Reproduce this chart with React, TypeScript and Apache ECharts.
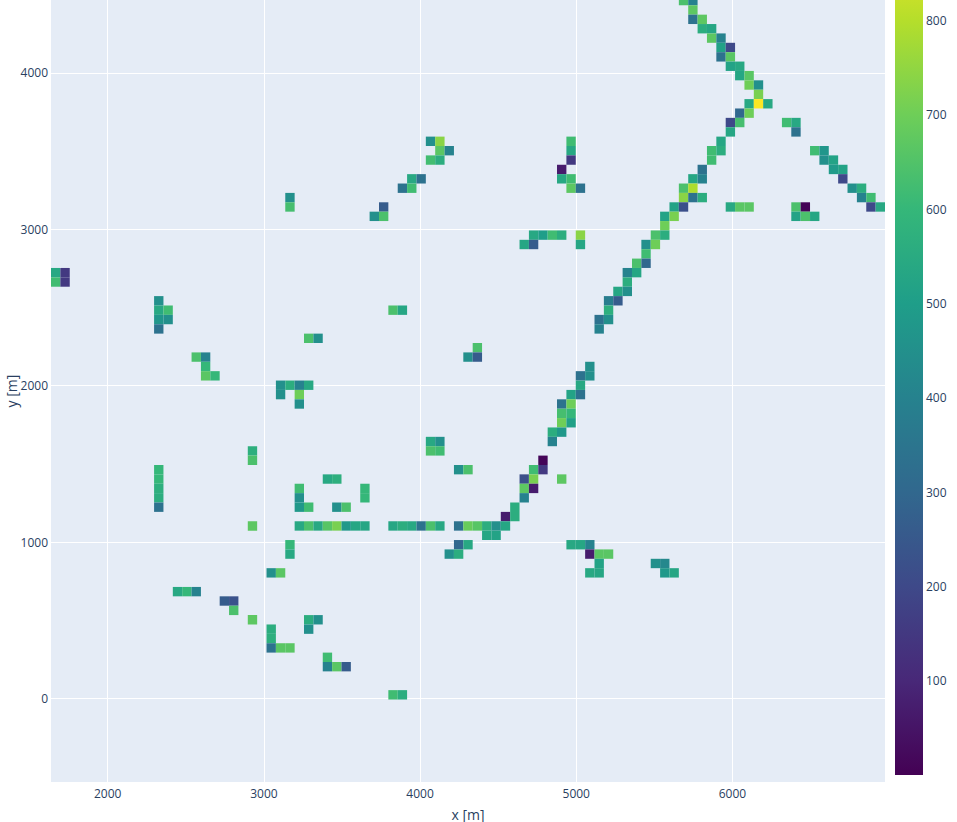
import React, { useEffect, useRef } from "react";
import * as echarts from "echarts";

// Row centres (y, metres), from top row to bottom row
const yRows: number[] = [
  4463, 4403, 4343, 4283, 4223, 4163, 4103, 4043, 3983, 3923, 3863, 3803, 3743, 3683, 3623,
  3563, 3503, 3443, 3383, 3323, 3263, 3203, 3143, 3083, 3023, 2963, 2903, 2843, 2783, 2723,
  2663, 2603, 2543, 2483, 2423, 2363, 2303, 2243, 2183, 2123, 2063, 2003, 1943, 1883, 1823,
  1763, 1703, 1643, 1583, 1523, 1463, 1403, 1343, 1283, 1223, 1163, 1103, 1043, 983, 923,
  863, 803, 683, 623, 563, 503, 443, 383, 323, 263, 203, 23,
];

// Cell centres (x, metres) for each row
const xByRow: number[][] = [
  [5687, 5747],
  [5747],
  [5747, 5807],
  [5807, 5867],
  [5867, 5927],
  [5927, 5987],
  [5927, 5987],
  [5987, 6047],
  [6047, 6107],
  [6107, 6167],
  [6167],
  [6107, 6167, 6227],
  [6047, 6107],
  [5987, 6047, 6347, 6407],
  [5987, 6407],
  [4067, 4127, 4967, 5927],
  [4127, 4187, 4967, 5867, 5927, 6527, 6587],
  [4067, 4127, 4967, 5867, 6587, 6647],
  [4907, 5807, 6647, 6707],
  [3947, 4007, 4907, 4967, 5747, 5807, 6707],
  [3887, 3947, 4967, 5027, 5687, 5747, 6767, 6827],
  [3167, 5687, 5747, 5807, 6827, 6887],
  [3167, 3767, 5627, 5687, 5987, 6047, 6107, 6407, 6467, 6887, 6947],
  [3707, 3767, 5567, 5627, 6407, 6467, 6527],
  [5567],
  [4727, 4787, 4847, 4907, 5027, 5507, 5567],
  [4667, 4727, 5027, 5447, 5507],
  [5447],
  [5387, 5447],
  [1667, 1727, 5327, 5387],
  [1667, 1727, 5327],
  [5267, 5327],
  [2327, 5207, 5267],
  [2327, 2387, 3827, 3887, 5207],
  [2327, 2387, 5147, 5207],
  [2327, 5147],
  [3287, 3347],
  [4367],
  [2567, 2627, 4307, 4367],
  [2627, 5087],
  [2627, 2687, 5027, 5087],
  [3107, 3167, 3227, 3287, 5027],
  [3107, 3227, 4967, 5027],
  [3227, 4907, 4967],
  [4907, 4967],
  [4907, 4967],
  [4847, 4907],
  [4067, 4127, 4847],
  [2927, 4067, 4127],
  [2927, 4787],
  [2327, 4247, 4307, 4727, 4787],
  [2327, 3407, 3467, 4667, 4727, 4907],
  [2327, 3227, 3647, 4667, 4727],
  [2327, 3227, 3647, 4667],
  [2327, 3227, 3287, 3467, 3527, 4607],
  [4547, 4607],
  [2927, 3227, 3287, 3347, 3407, 3467, 3527, 3587, 3647, 3827, 3887, 3947, 4007, 4067, 4127, 4247, 4307, 4367, 4427, 4487, 4547],
  [4427, 4487],
  [3167, 4247, 4307, 4967, 5027, 5087],
  [3167, 4187, 4247, 5087, 5147, 5207],
  [5147, 5507, 5567],
  [3047, 3107, 5087, 5147, 5567, 5627],
  [2447, 2507, 2567],
  [2747, 2807],
  [2807],
  [2927, 3287, 3347],
  [3047, 3287],
  [3047],
  [3047, 3107, 3167],
  [3407],
  [3407, 3467, 3527],
  [3827, 3887],
];

// Cell values for each row
const zByRow: number[][] = [
  [640, 400],
  [670],
  [340, 670],
  [560, 530],
  [670, 400],
  [510, 200],
  [340, 665],
  [520, 540],
  [530, 665],
  [700, 450],
  [715],
  [540, 900, 540],
  [300, 700],
  [200, 630, 620, 540],
  [530, 340],
  [450, 740, 620, 530],
  [665, 400, 540, 620, 560, 620, 470],
  [625, 560, 150, 620, 450, 520],
  [70, 340, 490, 520],
  [540, 340, 540, 620, 530, 400, 200],
  [340, 620, 670, 340, 640, 790, 450, 560],
  [450, 740, 340, 560, 400, 620],
  [630, 260, 520, 220, 540, 665, 665, 640, 5, 200, 540],
  [450, 640, 520, 715, 520, 640, 530],
  [700],
  [540, 500, 620, 560, 740, 640, 560],
  [530, 260, 530, 450, 700],
  [620],
  [640, 300],
  [540, 150, 400, 530],
  [620, 150, 560],
  [530, 450],
  [450, 380, 260],
  [540, 620, 640, 530, 570],
  [470, 450, 340, 450],
  [340, 400],
  [640, 450],
  [640],
  [640, 400, 450, 260],
  [600, 450],
  [665, 600, 340, 450],
  [450, 560, 400, 540, 540],
  [450, 700, 520, 340],
  [450, 340, 700],
  [630, 600],
  [700, 510],
  [560, 480],
  [540, 450, 400],
  [570, 640, 620],
  [640, 10],
  [600, 450, 640, 620, 150],
  [600, 540, 570, 220, 715, 670],
  [570, 620, 600, 670, 70],
  [560, 450, 600, 400],
  [340, 480, 620, 450, 640, 560],
  [70, 560],
  [670, 540, 640, 540, 660, 715, 480, 530, 530, 530, 560, 540, 340, 640, 540, 340, 690, 660, 560, 450, 530],
  [530, 520],
  [600, 300, 540, 540, 530, 400],
  [540, 450, 560, 70, 665, 665],
  [520, 450, 420],
  [450, 665, 540, 530, 480, 530],
  [540, 600, 400],
  [260, 230],
  [640],
  [670, 560, 450],
  [560, 450],
  [570],
  [340, 665, 665],
  [620],
  [400, 665, 260],
  [620, 560],
];

const colorbarTicks: number[] = [100, 200, 300, 400, 500, 600, 700, 800];

const X_RANGE: [number, number] = [1637, 6977];
const Y_RANGE: [number, number] = [-534.5, 4466.7];
const Z_RANGE: [number, number] = [0, 900];
const CELL = 60;

const VIRIDIS = [
  "#440154", "#482878", "#3e4989", "#31688e", "#26828e",
  "#1f9e89", "#35b779", "#6ece58", "#b5de2b", "#fde725",
];

const FONT = "'Open Sans', 'Noto Sans', sans-serif";
const TXT = "#2a3f5f";

export default function App() {
  const ref = useRef<HTMLDivElement>(null);

  useEffect(() => {
    if (!ref.current) return;
    const chart = echarts.init(ref.current, undefined, { renderer: "svg" });

    const cells: number[][] = [];
    yRows.forEach((y, r) => {
      xByRow[r].forEach((x, k) => cells.push([x, y, zByRow[r][k]]));
    });

    const plain = (v: number) => String(v);

    const option: any = {
      animation: false,
      backgroundColor: "#ffffff",
      textStyle: { fontFamily: FONT },
      grid: [
        {
          left: 51, top: 0, right: 72, bottom: 40,
          show: true, backgroundColor: "#E5ECF6", borderWidth: 0,
          containLabel: false, outerBoundsMode: "none",
        },
        {
          left: 895, right: 34, top: -74, bottom: 47, show: false,
          containLabel: false, outerBoundsMode: "none",
        },
      ],
      xAxis: [
        {
          gridIndex: 0, type: "value", min: X_RANGE[0], max: X_RANGE[1], splitNumber: 5,
          axisLine: { show: false }, axisTick: { show: false },
          axisLabel: {
            color: TXT, fontSize: 12, fontFamily: FONT, margin: 5,
            showMinLabel: false, showMaxLabel: false, formatter: plain,
          },
          splitLine: { show: true, showMinLine: false, showMaxLine: false, lineStyle: { color: "#ffffff", width: 1 } },
          name: "x [m]", nameLocation: "middle", nameGap: 25, nameMoveOverlap: false,
          nameTextStyle: { color: TXT, fontSize: 14, fontFamily: FONT },
        },
        { gridIndex: 1, type: "value", min: 0, max: 1, show: false },
      ],
      yAxis: [
        {
          gridIndex: 0, type: "value", min: Y_RANGE[0], max: Y_RANGE[1], splitNumber: 5,
          axisLine: { show: false }, axisTick: { show: false },
          axisLabel: {
            color: TXT, fontSize: 12, fontFamily: FONT, margin: 3,
            showMinLabel: false, showMaxLabel: false, formatter: plain,
          },
          splitLine: { show: true, showMinLine: false, showMaxLine: false, lineStyle: { color: "#ffffff", width: 1 } },
          name: "y [m]", nameLocation: "middle", nameGap: 33, nameMoveOverlap: false,
          nameTextStyle: { color: TXT, fontSize: 14, fontFamily: FONT },
        },
        {
          gridIndex: 1, type: "value", position: "right", min: Z_RANGE[0], max: Z_RANGE[1], interval: 100,
          axisLine: { show: false }, axisTick: { show: false }, splitLine: { show: false },
          axisLabel: {
            color: TXT, fontSize: 12, fontFamily: FONT, margin: 3,
            formatter: (v: number) => (colorbarTicks.indexOf(v) >= 0 ? String(v) : ""),
          },
        },
      ],
      visualMap: {
        type: "continuous", show: false, min: Z_RANGE[0], max: Z_RANGE[1],
        dimension: 2, seriesIndex: 0, inRange: { color: VIRIDIS },
      },
      series: [
        {
          type: "custom",
          xAxisIndex: 0, yAxisIndex: 0,
          clip: true,
          encode: { x: 0, y: 1 },
          data: cells,
          renderItem: (params: any, api: any) => {
            const x = api.value(0);
            const y = api.value(1);
            const p0 = api.coord([x - CELL / 2, y + CELL / 2]);
            const p1 = api.coord([x + CELL / 2, y - CELL / 2]);
            return {
              type: "rect",
              shape: { x: p0[0], y: p0[1], width: p1[0] - p0[0], height: p1[1] - p0[1] },
              style: { fill: api.visual("color") },
            };
          },
        },
        {
          type: "custom",
          xAxisIndex: 1, yAxisIndex: 1,
          data: [[0, Z_RANGE[0], Z_RANGE[1]]],
          renderItem: (params: any, api: any) => {
            const p0 = api.coord([0, api.value(1)]);
            const p1 = api.coord([1, api.value(2)]);
            return {
              type: "rect",
              shape: { x: p0[0], y: p1[1], width: p1[0] - p0[0], height: p0[1] - p1[1] },
              style: {
                fill: {
                  type: "linear", x: 0, y: 1, x2: 0, y2: 0,
                  colorStops: VIRIDIS.map((c, i) => ({ offset: i / (VIRIDIS.length - 1), color: c })),
                },
              },
            };
          },
        },
      ],
    };

    chart.setOption(option);
    return () => chart.dispose();
  }, []);

  return (
    <div
      ref={ref}
      style={{ position: "absolute", left: 0, top: 0, width: 957, height: 822 }}
    />
  );
}
